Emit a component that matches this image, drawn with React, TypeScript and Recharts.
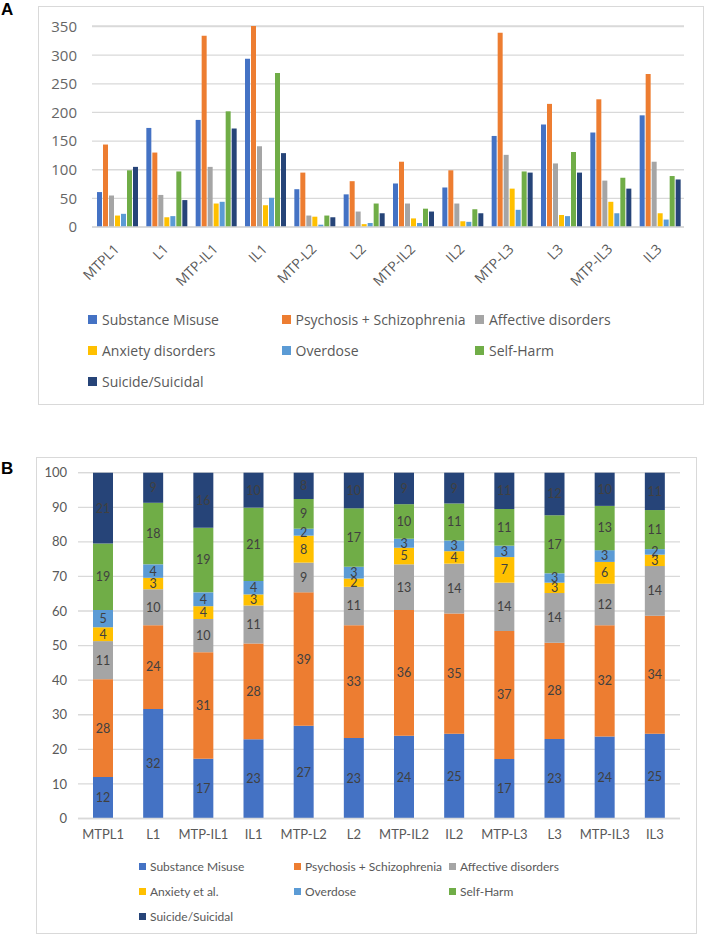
import React from 'react';
import { BarChart, Bar, XAxis, YAxis, CartesianGrid, LabelList } from 'recharts';

const categories = ['MTPL1', 'L1', 'MTP-IL1', 'IL1', 'MTP-L2', 'L2', 'MTP-IL2', 'IL2', 'MTP-L3', 'L3', 'MTP-IL3', 'IL3'];
const seriesKeys = ['substance', 'psychosis', 'affective', 'anxiety', 'overdose', 'selfHarm', 'suicide'];
const seriesColors = ['#4472C4', '#ED7D31', '#A5A5A5', '#FFC000', '#5B9BD5', '#70AD47', '#264478'];
const legendLabelsA = ['Substance Misuse', 'Psychosis + Schizophrenia', 'Affective disorders', 'Anxiety disorders', 'Overdose', 'Self-Harm', 'Suicide/Suicidal'];
const legendLabelsB = ['Substance Misuse', 'Psychosis + Schizophrenia', 'Affective disorders', 'Anxiety et al.', 'Overdose', 'Self-Harm', 'Suicide/Suicidal'];

// Panel A: counts
const substanceA = [61, 173, 187, 294, 66, 57, 76, 69, 159, 179, 165, 195];
const psychosisA = [144, 130, 334, 351, 95, 80, 114, 99, 339, 215, 223, 267];
const affectiveA = [55, 56, 105, 141, 20, 27, 41, 41, 126, 111, 81, 114];
const anxietyA = [20, 17, 41, 38, 18, 5, 15, 10, 67, 21, 44, 24];
const overdoseA = [23, 19, 44, 51, 4, 7, 7, 9, 30, 19, 24, 13];
const selfHarmA = [99, 97, 202, 269, 20, 41, 32, 31, 97, 131, 86, 89];
const suicideA = [105, 47, 172, 129, 17, 24, 27, 24, 95, 95, 67, 83];
const ticksA = [0, 50, 100, 150, 200, 250, 300, 350];

// Panel B: percentages
const substanceB = [12.0, 31.7, 17.3, 22.9, 26.8, 23.3, 23.9, 24.5, 17.2, 23.0, 23.7, 24.5];
const psychosisB = [28.3, 24.2, 30.8, 27.7, 38.6, 32.6, 36.4, 34.8, 37.0, 27.8, 32.2, 34.1];
const affectiveB = [11.0, 10.4, 9.6, 11.0, 8.6, 11.1, 13.2, 14.4, 14.0, 14.4, 12.0, 14.4];
const anxietyB = [4.0, 3.3, 3.7, 3.2, 7.8, 2.4, 4.8, 3.6, 7.4, 3.0, 6.3, 3.3];
const overdoseB = [5.0, 3.9, 4.0, 3.9, 2.0, 3.4, 2.6, 3.1, 3.3, 2.7, 3.4, 1.6];
const selfHarmB = [19.2, 17.8, 18.7, 21.2, 8.6, 16.9, 10.0, 10.7, 10.6, 16.8, 12.8, 11.3];
const suicideB = [20.5, 8.7, 15.9, 10.1, 7.6, 10.3, 9.1, 8.9, 10.5, 12.3, 9.6, 10.8];
const ticksB = [0, 10, 20, 30, 40, 50, 60, 70, 80, 90, 100];

const seriesA = [substanceA, psychosisA, affectiveA, anxietyA, overdoseA, selfHarmA, suicideA];
const seriesB = [substanceB, psychosisB, affectiveB, anxietyB, overdoseB, selfHarmB, suicideB];

const buildRows = (series: number[][]) =>
  categories.map((c, i) => {
    const row: Record<string, any> = { name: c };
    seriesKeys.forEach((k, j) => {
      row[k] = series[j][i];
    });
    return row;
  });

const dataA = buildRows(seriesA);
const dataB = buildRows(seriesB);

const FONT_A = "'Open Sans', 'DejaVu Sans', sans-serif";
const FONT_B = "Lato, 'Open Sans', sans-serif";

const RotTick = (props: any) => {
  const { x, y, payload } = props;
  const ay = y + 19.5;
  return (
    <text
      x={x}
      y={ay}
      dy="0.35em"
      transform={`rotate(-45, ${x}, ${ay})`}
      textAnchor="end"
      fill="#595959"
      fontSize={14}
      fontFamily={FONT_A}
    >
      {payload.value}
    </text>
  );
};

type LegendProps = {
  labels: string[];
  left: number;
  top: number;
  colW: number;
  rowH: number;
  fontSize: number;
  sq: number;
  gap: number;
  font: string;
};

const HtmlLegend = ({ labels, left, top, colW, rowH, fontSize, sq, gap, font }: LegendProps) => (
  <>
    {labels.map((l, i) => {
      const col = i % 3;
      const row = Math.floor(i / 3);
      return (
        <div
          key={l}
          style={{
            position: 'absolute',
            left: left + col * colW,
            top: top + row * rowH - 10,
            height: 20,
            display: 'flex',
            alignItems: 'center',
            whiteSpace: 'nowrap',
            fontFamily: font,
            fontSize,
            color: '#595959',
          }}
        >
          <span style={{ display: 'inline-block', width: sq, height: sq, background: seriesColors[i], marginRight: gap }} />
          <span>{l}</span>
        </div>
      );
    })}
  </>
);

export default function App() {
  return (
    <div style={{ position: 'absolute', left: 0, top: 0, width: 706, height: 936, background: '#fff', overflow: 'hidden' }}>
      {/* Panel A frame */}
      <div style={{ position: 'absolute', left: 38, top: 6, width: 666, height: 399, border: '1px solid #d9d9d9', boxSizing: 'border-box' }} />
      <div style={{ position: 'absolute', left: 1, top: 1, fontFamily: "'Liberation Sans', Arial, sans-serif", fontWeight: 'bold', fontSize: 17, lineHeight: '17px' }}>A</div>

      <div style={{ position: 'absolute', left: 0, top: 0 }}>
        <BarChart width={706} height={300} data={dataA} margin={{ top: 26, right: 22, left: 0, bottom: 0 }} barCategoryGap={5} barGap={1}>
          <CartesianGrid vertical={false} stroke="#d9d9d9" strokeWidth={1.3} />
          <XAxis dataKey="name" interval={0} height={73} tickSize={0} tickMargin={0} tick={<RotTick />} axisLine={{ stroke: '#d9d9d9', strokeWidth: 1.3 }} tickLine={false} />
          <YAxis
            width={92}
            domain={[0, 350]}
            ticks={ticksA}
            tickSize={0}
            tickMargin={15}
            axisLine={false}
            tickLine={false}
            tick={{ fill: '#666', fontSize: 15, fontFamily: FONT_A }}
          />
          {seriesKeys.map((k, j) => (
            <Bar key={k} dataKey={k} fill={seriesColors[j]} isAnimationActive={false} />
          ))}
        </BarChart>
      </div>
      <HtmlLegend labels={legendLabelsA} left={88} top={319} colW={193.5} rowH={31} fontSize={14} sq={9} gap={5} font={FONT_A} />

      {/* Panel B frame */}
      <div style={{ position: 'absolute', left: 36, top: 457, width: 661, height: 477, border: '1px solid #d9d9d9', boxSizing: 'border-box' }} />
      <div style={{ position: 'absolute', left: 1, top: 460, fontFamily: "'Liberation Sans', Arial, sans-serif", fontWeight: 'bold', fontSize: 17, lineHeight: '17px' }}>B</div>

      <div style={{ position: 'absolute', left: 0, top: 450 }}>
        <BarChart width={706} height={400} data={dataB} margin={{ top: 22.7, right: 26, left: 0, bottom: 0 }} barCategoryGap={15}>
          <CartesianGrid vertical={false} stroke="#d9d9d9" strokeWidth={1.3} />
          <XAxis
            dataKey="name"
            interval={0}
            height={31.5}
            tickSize={0}
            tickMargin={11}
            axisLine={{ stroke: '#d9d9d9', strokeWidth: 1.3 }}
            tickLine={false}
            tick={{ fill: '#595959', fontSize: 13, fontFamily: FONT_B }}
          />
          <YAxis
            width={78}
            domain={[0, 100]}
            ticks={ticksB}
            tickSize={0}
            tickMargin={11}
            axisLine={false}
            tickLine={false}
            tick={{ fill: '#595959', fontSize: 13, fontFamily: FONT_B }}
          />
          {seriesKeys.map((k, j) => (
            <Bar key={k} dataKey={k} stackId="s" fill={seriesColors[j]} isAnimationActive={false}>
              <LabelList
                dataKey={k}
                position="center"
                formatter={(v: any) => Math.round(Number(v))}
                fill="#404040"
                fontSize={12.5}
                fontFamily={FONT_B}
              />
            </Bar>
          ))}
        </BarChart>
      </div>
      <HtmlLegend labels={legendLabelsB} left={139} top={866} colW={155} rowH={25} fontSize={12} sq={7} gap={4} font={FONT_B} />
    </div>
  );
}
